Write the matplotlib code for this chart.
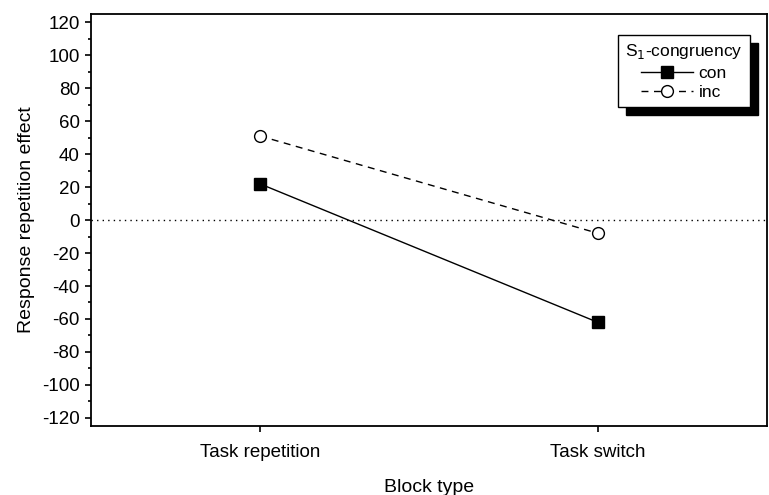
import matplotlib
matplotlib.use("Agg")
import matplotlib.pyplot as plt
from matplotlib.patches import Rectangle
from matplotlib.ticker import MultipleLocator

plt.rcParams['font.family'] = ['Liberation Sans', 'DejaVu Sans']
plt.rcParams['axes.unicode_minus'] = False

# Données
block_types = ["Task repetition", "Task switch"]
con_values = [22, -62]
inc_values = [51, -8]
y_ticks = list(range(-120, 121, 20))

fig = plt.figure(figsize=(7.69, 4.95), dpi=100)
ax = fig.add_axes([0.118, 0.139, 0.879, 0.833])

x = list(range(len(block_types)))
ax.axhline(0, color="black", lw=1.0, ls=(0, (1, 3)), zorder=1)
ax.plot(x, con_values, color="black", lw=1.0, marker="s", ms=8,
        mfc="black", mec="black", label="con", zorder=3)
ax.plot(x, inc_values, color="black", lw=1.0, ls=(0, (5, 4)), marker="o",
        ms=8.5, mfc="white", mec="black", mew=1.0, label="inc", zorder=3)

ax.set_xlim(-0.5, 1.5)
ax.set_ylim(-125, 125)
ax.set_xticks(x)
ax.set_xticklabels(block_types)
ax.set_yticks(y_ticks)
ax.yaxis.set_minor_locator(MultipleLocator(10))
ax.tick_params(axis="both", which="major", direction="out", length=4,
               width=1.2, labelsize=13.5, pad=4)
ax.tick_params(axis="y", which="minor", direction="out", length=2.5, width=1.2)
ax.tick_params(axis="x", pad=9)
for s in ax.spines.values():
    s.set_linewidth(1.3)

ax.set_xlabel("Block type", fontsize=14, labelpad=13)
ax.set_ylabel("Response repetition effect", fontsize=14, labelpad=5)

leg = ax.legend(title="S$_1$-congruency", loc="upper right",
                bbox_to_anchor=(0.975, 0.948), frameon=True, fancybox=False,
                edgecolor="black", framealpha=1, fontsize=12.5,
                title_fontsize=12.5, handlelength=3.0, handletextpad=0.3,
                borderpad=0.4, labelspacing=0.25, borderaxespad=0)
leg.get_frame().set_linewidth(1.0)
leg.set_zorder(5)

# ombre noire décalée derrière la légende
fig.canvas.draw()
bb = leg.get_window_extent()
shadow = Rectangle((bb.x0 + 8, bb.y0 - 8), bb.width, bb.height,
                   transform=None, facecolor="black", edgecolor="black",
                   zorder=4)
ax.add_artist(shadow)

fig.savefig("out.png", dpi=100)
